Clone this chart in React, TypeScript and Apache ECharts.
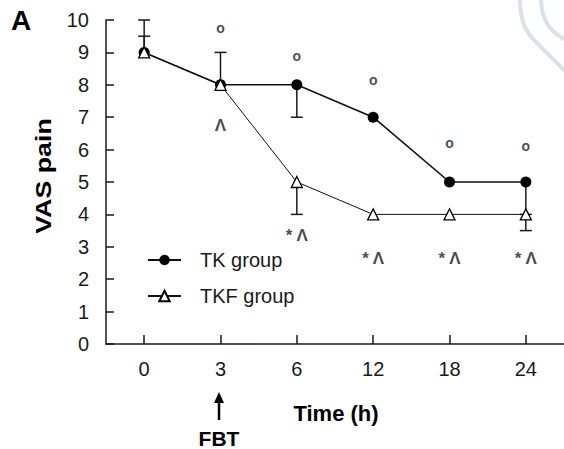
import React, { useEffect, useRef } from "react";
import * as echarts from "echarts";

const categories = ["0", "3", "6", "12", "18", "24"];
const yTicks = [0, 10, 1]; // min, max, interval
const tkValues = [9, 8, 8, 7, 5, 5];
const tkfValues = [9, 8, 5, 4, 4, 4];
// error bars: [categoryIndex, from, to]
const tkErrors = [
  [0, 9, 10],
  [2, 8, 7],
  [5, 5, 4],
];
const tkfErrors = [
  [0, 9, 9.5],
  [1, 8, 9],
  [2, 5, 4],
  [5, 4, 3.5],
];
// significance marks: [categoryIndex, yPosition, text]
const circleMarks = [
  [1, 9.75, "o"],
  [2, 8.9, "o"],
  [3, 8.15, "o"],
  [4, 6.2, "o"],
  [5, 6.1, "o"],
];
const caretMarks = [
  [1, 6.75, "Λ"],
  [2, 3.35, "* Λ"],
  [3, 2.65, "* Λ"],
  [4, 2.65, "* Λ"],
  [5, 2.65, "* Λ"],
];

const FONT = "Arial, 'Liberation Sans', Helvetica, sans-serif";
const INK = "#1a1a1a";

function errorRender(params: any, api: any) {
  const x = api.value(0);
  const p1 = api.coord([x, api.value(1)]);
  const p2 = api.coord([x, api.value(2)]);
  const style = { stroke: INK, lineWidth: 1.5 };
  return {
    type: "group",
    children: [
      { type: "line", shape: { x1: p1[0], y1: p1[1], x2: p2[0], y2: p2[1] }, style },
      { type: "line", shape: { x1: p2[0] - 6, y1: p2[1], x2: p2[0] + 6, y2: p2[1] }, style },
    ],
  };
}

export default function App() {
  const ref = useRef<HTMLDivElement>(null);
  useEffect(() => {
    if (!ref.current) return;
    const chart = echarts.init(ref.current, null, { renderer: "svg" });
    const option: any = {
      animation: false,
      backgroundColor: "#fff",
      grid: { left: 106, top: 20, right: -2, bottom: 105, containLabel: false },
      xAxis: {
        type: "category",
        data: categories,
        boundaryGap: true,
        axisLine: { lineStyle: { color: INK, width: 1.5 } },
        axisTick: { show: true, inside: true, length: 9, alignWithLabel: true, lineStyle: { color: INK, width: 1.5 } },
        axisLabel: { color: INK, fontSize: 20, fontFamily: FONT, margin: 15 },
        splitLine: { show: false },
      },
      yAxis: {
        type: "value",
        min: yTicks[0],
        max: yTicks[1],
        interval: yTicks[2],
        axisLine: { show: true, lineStyle: { color: INK, width: 1.5 } },
        axisTick: { show: true, inside: true, length: 8, lineStyle: { color: INK, width: 1.5 } },
        axisLabel: { color: INK, fontSize: 20, fontFamily: FONT, margin: 17 },
        splitLine: { show: false },
      },
      legend: {
        orient: "vertical",
        left: 142,
        top: 245,
        itemWidth: 33,
        itemHeight: 13,
        itemGap: 16,
        data: ["TK group", "TKF group"],
        textStyle: { color: INK, fontSize: 20, fontFamily: FONT, padding: [0, 0, 0, 14] },
      },
      series: [
        {
          name: "TK errors",
          type: "custom",
          renderItem: errorRender,
          data: tkErrors,
          z: 1,
        },
        {
          name: "TKF errors",
          type: "custom",
          renderItem: errorRender,
          data: tkfErrors,
          z: 1,
        },
        {
          name: "TK group",
          type: "line",
          data: tkValues,
          symbol: "circle",
          symbolSize: 11,
          itemStyle: { color: "#000" },
          lineStyle: { color: "#111", width: 1.6 },
          z: 3,
        },
        {
          name: "TKF group",
          type: "line",
          data: tkfValues,
          symbol: "triangle",
          symbolSize: 11,
          itemStyle: { color: "#fff", borderColor: "#000", borderWidth: 1.3 },
          lineStyle: { color: "#111", width: 1 },
          z: 4,
        },
        {
          name: "circles",
          type: "scatter",
          data: circleMarks,
          symbolSize: 0,
          label: {
            show: true,
            position: "inside",
            formatter: (p: any) => p.value[2],
            color: INK,
            fontSize: 14,
            fontWeight: "bold",
            fontFamily: FONT,
          },
          z: 5,
        },
        {
          name: "carets",
          type: "scatter",
          data: caretMarks,
          symbolSize: 0,
          label: {
            show: true,
            position: "inside",
            formatter: (p: any) => p.value[2],
            color: INK,
            fontSize: 17,
            fontWeight: "bold",
            fontFamily: FONT,
          },
          z: 5,
        },
      ],
      graphic: [
        {
          type: "text",
          x: 21,
          y: 20,
          style: { text: "A", font: `bold 28px ${FONT}`, fill: "#000", align: "center", verticalAlign: "middle" },
        },
        {
          type: "text",
          x: 43,
          y: 176,
          rotation: Math.PI / 2,
          scaleX: 1.22,
          style: { text: "VAS pain", font: `bold 22px ${FONT}`, fill: "#000", align: "center", verticalAlign: "middle" },
        },
        {
          type: "text",
          x: 336,
          y: 413,
          style: { text: "Time (h)", font: `bold 22px ${FONT}`, fill: "#000", align: "center", verticalAlign: "middle" },
        },
        {
          type: "text",
          x: 219,
          y: 438,
          style: { text: "FBT", font: `bold 21px ${FONT}`, fill: "#000", align: "center", verticalAlign: "middle" },
        },
        {
          type: "line",
          shape: { x1: 219, y1: 420, x2: 219, y2: 398 },
          style: { stroke: "#000", lineWidth: 2.5 },
        },
        {
          type: "polygon",
          shape: { points: [[214, 403], [219, 392], [224, 403]] },
          style: { fill: "#000" },
        },
        {
          type: "bezierCurve",
          shape: { x1: 520, y1: -2, x2: 536, y2: 42, cpx1: 520, cpy1: 22, cpx2: 526, cpy2: 32 },
          style: { stroke: "#d9e2e8", lineWidth: 4, fill: null },
        },
        {
          type: "line",
          shape: { x1: 536, y1: 42, x2: 566, y2: 72 },
          style: { stroke: "#d9e2e8", lineWidth: 4 },
        },
        {
          type: "bezierCurve",
          shape: { x1: 541, y1: -2, x2: 566, y2: 40, cpx1: 541, cpy1: 22, cpx2: 552, cpy2: 33 },
          style: { stroke: "#d9e2e8", lineWidth: 4, fill: null },
        },
      ],
    };
    chart.setOption(option);
    return () => chart.dispose();
  }, []);
  return <div ref={ref} style={{ width: 564, height: 449, position: "absolute", left: 0, top: 0 }} />;
}
